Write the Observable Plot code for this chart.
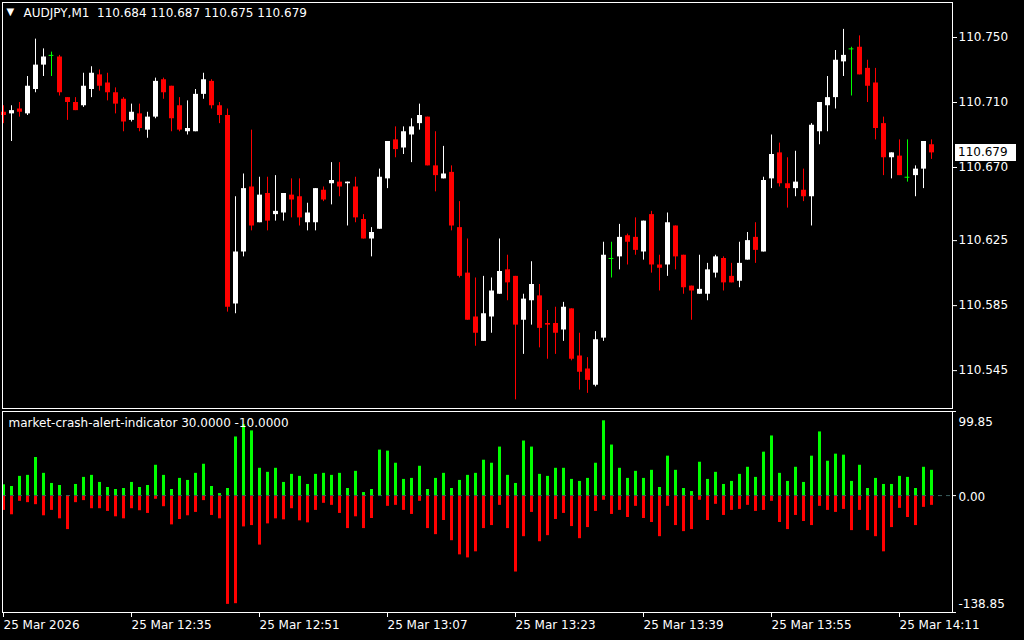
<!DOCTYPE html>
<html><head><meta charset="utf-8">
<script src="https://cdn.jsdelivr.net/npm/d3@7"></script>
<script src="https://cdn.jsdelivr.net/npm/@observablehq/plot@0.6"></script>
<style>
html,body{margin:0;padding:0;background:#000;}
#wrap{position:relative;width:1024px;height:640px;background:#000;overflow:hidden;font-family:"DejaVu Sans",sans-serif;}
#wrap svg{position:absolute;left:0;max-width:none;}
#price{position:absolute;left:955px;width:61px;height:17px;background:#fff;color:#000;font:12px "DejaVu Sans",sans-serif;line-height:17px;padding-left:3px;box-sizing:border-box;}
</style></head><body><div id="wrap"></div>
<script>
const symbol = "AUDJPY,M1";
const indicatorName = "market-crash-alert-indicator 30.0000 -10.0000";
const startTime = "2026-03-25T12:19:00Z";

const opens = [110.704,110.703,110.706,110.703,110.718,110.733,110.739,110.738,110.713,110.710,
110.708,110.718,110.727,110.722,110.716,110.712,110.699,110.703,110.693,110.701,
110.724,110.720,110.708,110.692,110.692,110.715,110.723,110.708,110.702,110.586,
110.618,110.658,110.636,110.654,110.641,110.642,110.653,110.652,110.636,110.636,
110.656,110.660,110.661,110.660,110.658,110.638,110.626,110.632,110.663,110.687,
110.682,110.690,110.697,110.701,110.671,110.663,110.667,110.633,110.605,110.578,
110.563,110.578,110.592,110.607,110.603,110.576,110.588,110.591,110.574,110.574,
110.570,110.583,110.554,110.546,110.536,110.565,110.614,110.615,110.628,110.627,
110.618,110.641,110.610,110.610,110.634,110.616,110.597,110.592,110.592,110.605,
110.614,110.603,110.600,110.613,110.627,110.618,110.663,110.679,110.660,110.657,
110.656,110.652,110.692,110.708,110.713,110.735,110.743,110.744,110.731,110.722,
110.697,110.676,110.677,110.664,110.665,110.669,110.684];
const highs = [110.708,110.708,110.710,110.726,110.749,110.743,110.741,110.739,110.713,110.713,
110.728,110.732,110.730,110.728,110.719,110.713,110.709,110.709,110.704,110.725,
110.725,110.720,110.713,110.711,110.718,110.728,110.724,110.710,110.706,110.652,
110.666,110.693,110.664,110.664,110.665,110.654,110.663,110.663,110.648,110.657,
110.658,110.673,110.673,110.661,110.664,110.641,110.633,110.669,110.686,110.695,
110.695,110.700,110.709,110.701,110.692,110.683,110.671,110.649,110.626,110.602,
110.603,110.602,110.626,110.616,110.603,110.592,110.612,110.598,110.582,110.584,
110.587,110.583,110.568,110.553,110.569,110.624,110.624,110.635,110.629,110.639,
110.637,110.643,110.616,110.642,110.634,110.616,110.597,110.616,110.611,110.616,
110.615,110.611,110.624,110.630,110.636,110.664,110.690,110.685,110.676,110.680,
110.669,110.697,110.710,110.726,110.742,110.755,110.744,110.751,110.736,110.731,
110.701,110.679,110.687,110.687,110.671,110.686,110.687];
const lows = [110.697,110.686,110.701,110.702,110.716,110.726,110.726,110.714,110.699,110.705,
110.707,110.713,110.717,110.711,110.703,110.692,110.698,110.692,110.688,110.700,
110.712,110.692,110.692,110.690,110.692,110.712,110.706,110.697,110.581,110.580,
110.615,110.631,110.636,110.631,110.637,110.637,110.639,110.634,110.631,110.631,
110.649,110.647,110.652,110.634,110.636,110.626,110.615,110.632,110.657,110.676,
110.678,110.673,110.693,110.671,110.655,110.663,110.631,110.602,110.576,110.560,
110.563,110.568,110.592,110.588,110.527,110.555,110.573,110.559,110.552,110.555,
110.563,110.551,110.533,110.531,110.535,110.563,110.602,110.607,110.610,110.616,
110.613,110.605,110.594,110.603,110.607,110.592,110.576,110.592,110.588,110.602,
110.594,110.599,110.596,110.613,110.611,110.618,110.657,110.658,110.645,110.652,
110.649,110.634,110.684,110.692,110.706,110.726,110.714,110.727,110.710,110.687,
110.665,110.663,110.665,110.661,110.652,110.657,110.675];
const closes = [110.702,110.705,110.704,110.720,110.733,110.738,110.739,110.716,110.710,110.705,
110.720,110.728,110.720,110.716,110.709,110.698,110.704,110.694,110.701,110.723,
110.716,110.700,110.693,110.694,110.715,110.724,110.708,110.702,110.584,110.618,
110.657,110.634,110.653,110.637,110.643,110.654,110.650,110.639,110.642,110.657,
110.650,110.662,110.658,110.661,110.639,110.626,110.630,110.664,110.686,110.681,
110.692,110.695,110.702,110.671,110.665,110.666,110.634,110.603,110.576,110.568,
110.580,110.594,110.606,110.599,110.573,110.589,110.598,110.571,110.573,110.568,
110.584,110.552,110.544,110.539,110.564,110.616,110.614,110.627,110.624,110.619,
110.637,110.610,110.608,110.636,110.615,110.596,110.594,110.595,110.607,110.615,
110.599,110.599,110.611,110.625,110.619,110.662,110.678,110.660,110.657,110.661,
110.652,110.696,110.710,110.713,110.736,110.739,110.743,110.727,110.720,110.694,
110.676,110.679,110.665,110.664,110.669,110.686,110.679];

const upValues = [12.8,10.8,22.8,24,45.2,26.4,14.4,12,0,13.2,
21.6,24,15.6,9.6,7.2,8.4,15.6,9.6,12,36,
24,7.2,20.4,18,26.4,37.2,10.8,2.4,8.4,69.6,
84,76.8,32.4,27.6,32.4,15.6,25.2,22.8,13.2,25.2,
26.4,24,26.4,8.4,28.8,3.6,7.2,54,52.8,38.4,
19.2,20.4,34.8,7.2,20.4,26.4,8.4,18,24,26.4,
42,38.4,57.6,24,14.4,64.8,57.6,25.2,22.8,32.4,
32.4,19.2,16.8,20.4,38.4,88.8,60,32.4,20.4,28.8,
20.4,30,9.6,46.8,30,8.4,4.8,39.6,19.2,27.6,
13.2,16.8,25.2,33.6,21.6,51.6,70.8,26.4,16.8,33.6,
15.6,46.8,75.6,40.8,49.2,48,16.8,36,8.4,20.4,
13.2,13.2,22.8,21.6,8.4,33.6,30];
const downValues = [-17.6,-22.8,-6.8,-8.4,-10.8,-24,-17.6,-27.6,-40.4,-8.4,
-6,-15.6,-15.6,-18.8,-25.2,-27.6,-15.6,-18,-21.2,-4.4,
-13.2,-34.8,-28.4,-24,-20,-6,-23.6,-27.6,-129.2,-128.4,
-37.2,-35.6,-58.8,-33.6,-27.6,-28.8,-15.6,-30,-32.4,-17.6,
-9.2,-11.6,-21.2,-39.2,-25.2,-39.2,-27.2,0,-12.8,-11.6,
-17.6,-22.4,-6.8,-39.2,-46.4,-29.6,-53.6,-70.4,-74,-66.8,
-39.2,-35.6,-11.6,-39.2,-90.8,-48.8,-20,-54.8,-47.6,-28.4,
-21.2,-36.8,-51.2,-38,-18.8,-5.6,-22.4,-17.6,-26,-12.8,
-27.2,-32,-48.8,-12.8,-35.6,-42.8,-40.4,-5.6,-29.6,-10.4,
-23.6,-17.6,-16.4,-11.6,-18.8,-17.6,-6.8,-32,-40.4,-23.6,
-30.8,-35.6,-12.8,-17.6,-20,-16.4,-41.6,-17.6,-41.6,-48.8,
-66.8,-38,-15.2,-26,-35.6,-14,-11.6];

const priceTicks = [110.750, 110.710, 110.670, 110.625, 110.585, 110.545];
const indTicks = [99.85, 0, -138.85];
const timeTicks = ["2026-03-25T12:19:00Z","2026-03-25T12:35:00Z","2026-03-25T12:51:00Z","2026-03-25T13:07:00Z",
  "2026-03-25T13:23:00Z","2026-03-25T13:39:00Z","2026-03-25T13:55:00Z","2026-03-25T14:11:00Z"];
const timeTickLabels = ["25 Mar 2026","25 Mar 12:35","25 Mar 12:51","25 Mar 13:07",
  "25 Mar 13:23","25 Mar 13:39","25 Mar 13:55","25 Mar 14:11"];

const t0 = new Date(startTime).getTime();
const minute = k => new Date(t0 + k * 60000);
const xDomain = [minute(-0.125), minute(118.625)];

const rows = opens.map((o, i) => {
  const c = closes[i];
  return {t: minute(i), o, h: highs[i], l: lows[i], c,
    col: c > o ? "#ffffff" : c < o ? "#ff0000" : "#00ff00", doji: c === o};
});
const bars = [];
upValues.forEach((v, i) => { if (v !== 0) bars.push({t: minute(i), v, col: "#00ff00"}); });
downValues.forEach((v, i) => { if (v !== 0) bars.push({t: minute(i), v, col: "#ff0000"}); });

const last = rows[rows.length - 1];
const header = `${symbol}\u00a0\u00a0${last.o.toFixed(3)} ${last.h.toFixed(3)} ${last.l.toFixed(3)} ${last.c.toFixed(3)}`;
const styleObj = {background: "#000", color: "#fff", fontFamily: "DejaVu Sans", fontSize: "12px"};

const upper = Plot.plot({
  width: 1024, height: 410,
  marginLeft: 2, marginRight: 72, marginTop: 2, marginBottom: 2,
  style: styleObj,
  x: {type: "utc", domain: xDomain, axis: null},
  y: {domain: [110.52169, 110.77154], axis: null},
  color: {type: "identity"},
  marks: [
    Plot.ruleX(rows, {x: "t", y1: "l", y2: "h", stroke: "col", strokeWidth: 1}),
    Plot.ruleX(rows.filter(d => !d.doji), {x: "t", y1: "o", y2: "c", stroke: "col", strokeWidth: 5}),
    Plot.ruleY(rows.filter(d => d.doji), {y: "o", x1: d => new Date(+d.t - 18000), x2: d => new Date(+d.t + 18000), stroke: "col"}),
    Plot.frame({stroke: "#fff"}),
    Plot.axisY({anchor: "right", ticks: priceTicks, tickFormat: d => d.toFixed(3), tickSize: 4, tickPadding: 2, label: null, stroke: "#fff", fill: "#fff", fontSize: 12}),
    Plot.text(["\u25BC"], {frameAnchor: "top-left", dx: 4, dy: 9, lineAnchor: "middle", textAnchor: "start", fill: "#fff", fontSize: 10}),
    Plot.text([header], {frameAnchor: "top-left", dx: 21, dy: 11, lineAnchor: "middle", textAnchor: "start", fill: "#fff", fontSize: 12})
  ]
});

const labelMap = new Map(timeTicks.map((s, i) => [new Date(s).getTime(), timeTickLabels[i]]));
const lower = Plot.plot({
  width: 1024, height: 231,
  marginLeft: 2, marginRight: 72, marginTop: 2, marginBottom: 28,
  style: styleObj,
  x: {type: "utc", domain: xDomain, axis: null},
  y: {domain: [-138.85, 99.85], axis: null},
  color: {type: "identity"},
  marks: [
    Plot.ruleX(bars, {x: "t", y1: () => 0, y2: "v", stroke: "col", strokeWidth: 3}),
    Plot.ruleY([0], {stroke: "#3b5f5f", strokeDasharray: "4,4"}),
    Plot.frame({stroke: "#fff"}),
    Plot.axisX({ticks: timeTicks.map(s => new Date(s)), tickFormat: d => labelMap.get(+d), textAnchor: "start", tickSize: 5, tickPadding: 3, label: null, stroke: "#fff", fill: "#fff", fontSize: 12}),
    Plot.axisY({anchor: "right", ticks: indTicks, tickFormat: () => "", tickSize: 3, label: null, stroke: "#fff"}),
    Plot.text([indTicks[0]], {y: d => d, text: d => d.toFixed(2), frameAnchor: "right", dx: 6, dy: 11, textAnchor: "start", fill: "#fff", fontSize: 12}),
    Plot.text([indTicks[1]], {y: d => d, text: d => d.toFixed(2), frameAnchor: "right", dx: 6, dy: 2, textAnchor: "start", fill: "#fff", fontSize: 12}),
    Plot.text([indTicks[2]], {y: d => d, text: d => d.toFixed(2), frameAnchor: "right", dx: 6, dy: -8, textAnchor: "start", fill: "#fff", fontSize: 12}),
    Plot.text([indicatorName], {frameAnchor: "top-left", dx: 6, dy: 12, lineAnchor: "middle", textAnchor: "start", fill: "#fff", fontSize: 12})
  ]
});

const wrap = document.getElementById("wrap");
upper.style.top = "0px";
lower.style.top = "409px";
wrap.appendChild(upper);
wrap.appendChild(lower);

const py = upper.scale("y").apply(last.c);
const box = document.createElement("div");
box.id = "price";
box.textContent = last.c.toFixed(3);
box.style.top = (py - 8) + "px";
wrap.appendChild(box);
</script>
</body></html>
